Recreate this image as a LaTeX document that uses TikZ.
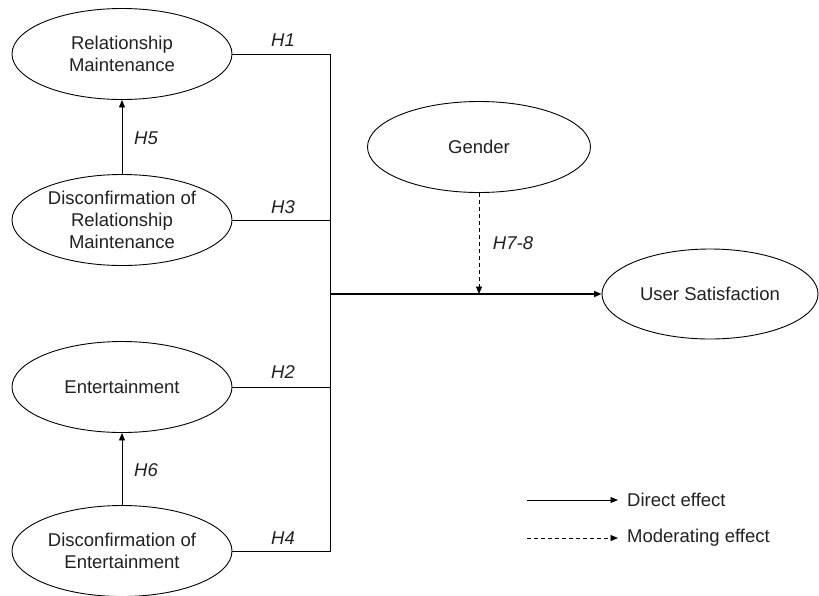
\documentclass[tikz,border=0pt]{standalone}
\usepackage{fontspec}
\setmainfont{Liberation Sans}
\usetikzlibrary{shapes.geometric,arrows.meta}
\begin{document}
\begin{tikzpicture}[x=1pt,y=-1pt,
  latent/.style={draw,ellipse,line width=0.9pt,inner sep=0pt,minimum width=220pt,minimum height=91pt},
  ltext/.style={align=center,inner sep=0pt,font=\fontsize{18.5}{22}\selectfont,text=black!87},
  hlabel/.style={inner sep=0pt,font=\fontsize{18.5}{22}\selectfont\itshape,text=black!87},
  conn/.style={line width=0.9pt},
  tip/.style={-{Triangle[length=7.5pt,width=6pt]}},
]
\useasboundingbox (0,0) rectangle (819,595);
% latent variables
\node[latent] (rm) at (122,54) {};
\node[ltext] (rmt) at (rm.center) {Relationship\\Maintenance};
\node[latent] (drm) at (122,220) {};
\node[ltext] (drmt) at (drm.center) {Disconfirmation of\\Relationship\\Maintenance};
\node[latent] (ent) at (122,387) {};
\node[ltext] (entt) at (ent.center) {Entertainment};
\node[latent] (dent) at (122,551) {};
\node[ltext] (dentt) at (dent.center) {Disconfirmation of\\Entertainment};
\node[latent,minimum width=223pt] (gen) at (479,147) {};
\node[ltext] (gent) at (gen.center) {Gender};
\node[latent,minimum width=216pt,minimum height=90pt] (us) at (710,294) {};
\node[ltext] (ust) at (us.center) {User Satisfaction};
% bus
\coordinate (bus) at (330,294);
\draw[conn] (rm.east) -- (rm.east -| bus) -- (dent.east -| bus) -- (dent.east);
\draw[conn] (drm.east) -- (drm.east -| bus);
\draw[conn] (ent.east) -- (ent.east -| bus);
\draw[conn,tip,line width=1.4pt] (bus) -- (us.west);
\draw[conn,tip] (drm.north) -- (rm.south);
\draw[conn,tip] (dent.north) -- (ent.south);
\draw[conn,tip,dash pattern=on 4pt off 3pt] (gen.south) -- (gen.south |- bus);
% hypothesis labels
\node[hlabel] (h1) at (283,40) {H1};
\node[hlabel] (h3) at (283,207) {H3};
\node[hlabel] (h2) at (283,372) {H2};
\node[hlabel] (h4) at (283,538) {H4};
\node[hlabel] (h5) at (146,138) {H5};
\node[hlabel] (h6) at (146,470) {H6};
\node[hlabel] (h78) at (513,243) {H7-8};
% legend
\coordinate (l1a) at (527,500);
\coordinate (l1b) at (618,500);
\coordinate (l2a) at (527,538);
\coordinate (l2b) at (618,538);
\draw[conn,tip] (l1a) -- (l1b);
\draw[conn,tip,dash pattern=on 4pt off 3pt] (l2a) -- (l2b);
\node[ltext,anchor=west] (leg1) at (627,500) {Direct effect};
\node[ltext,anchor=west] (leg2) at (627,538) {Moderating effect};
\end{tikzpicture}
\end{document}
